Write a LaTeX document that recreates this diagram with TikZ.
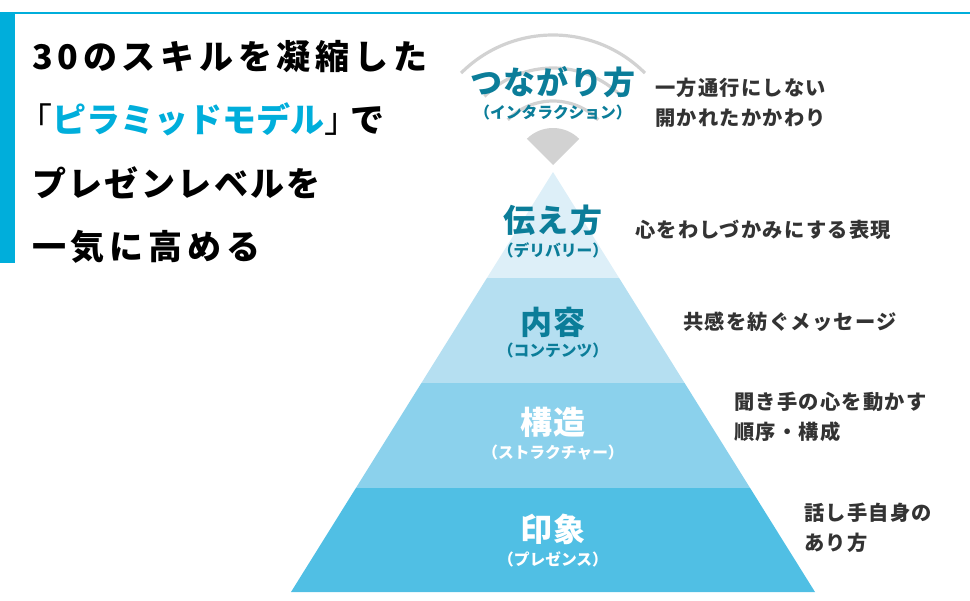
\documentclass[tikz,border=0pt]{standalone}
\usepackage{fontspec}
\usepackage{xcolor}
\usepackage{tikz}
\usetikzlibrary{positioning}
\setmainfont{Noto Sans CJK JP}
\newfontfamily\titlefont[LetterSpace=14]{Noto Sans CJK JP}
\newfontfamily\titlemid[LetterSpace=7]{Noto Sans CJK JP}
\newfontfamily\titletight[LetterSpace=0]{Noto Sans CJK JP}
\newfontfamily\layerfont[LetterSpace=4]{Noto Sans CJK JP}
\newfontfamily\notefont[LetterSpace=6]{Noto Sans CJK JP}
\definecolor{brandcyan}{HTML}{00AEDB}
\definecolor{layerteal}{HTML}{0B7D99}
\definecolor{tierone}{HTML}{DDEFF8}
\definecolor{tiertwo}{HTML}{B5DFF1}
\definecolor{tierthree}{HTML}{8BD1EC}
\definecolor{tierfour}{HTML}{50BFE4}
\definecolor{signalgray}{HTML}{D2D2D2}
\definecolor{notegray}{HTML}{333333}

\begin{document}
\begin{tikzpicture}[
x=0.75pt,y=-0.75pt,
headline/.style={inner sep=0pt,anchor=west,font=\titlefont\bfseries\fontsize{25.5}{30}\selectfont,text height=22.4pt,text depth=3.1pt},
layer/.style={inner sep=0pt,font=\layerfont\bfseries\fontsize{24}{28}\selectfont,text height=21.1pt,text depth=2.9pt},
layersub/.style={inner sep=0pt,font=\bfseries\fontsize{11.8}{14}\selectfont,text height=10.4pt,text depth=1.4pt},
note/.style={inner sep=0pt,anchor=west,align=left,text=notegray,font=\notefont\bfseries\fontsize{15.2}{22.5}\selectfont},
signal/.style={draw=signalgray,line width=2.4pt}
]
\useasboundingbox (0,0) rectangle (970,600);
\fill[brandcyan] (0,12.3) rectangle (15,263);
\draw[brandcyan,line width=1.1pt] (15,13) -- (970,13);

\fill[signalgray] (553,165) -- ++(-45:37) arc[start angle=-45,end angle=-135,radius=37] -- cycle;
\draw[signal] (553,165) ++(-45:64) arc[start angle=-45,end angle=-135,radius=64];
\draw[signal] (553,165) ++(-45:97) arc[start angle=-45,end angle=-135,radius=97];
\draw[signal] (553,165) ++(-45:130) arc[start angle=-45,end angle=-135,radius=130];

\fill[tierone] (553,172) -- (619.1,278) -- (486.9,278) -- cycle;
\fill[tiertwo] (486.9,278) -- (619.1,278) -- (684.6,383) -- (421.4,383) -- cycle;
\fill[tierthree] (421.4,383) -- (684.6,383) -- (750.1,488) -- (355.9,488) -- cycle;
\fill[tierfour] (355.9,488) -- (750.1,488) -- (815,592) -- (291,592) -- cycle;

\node[headline] (title1) at (32,57) {30のスキルを凝縮した};
\node[headline,below=21.4pt of title1.south west,anchor=north west] (title2) {{\mdseries\kern-.4em「}{\titletight\color{brandcyan}ピラミッドモデル}{\mdseries 」\kern-.25em}で};
\node[headline,below=21.4pt of title2.south west,anchor=north west] (title3) {\titlemid プレゼンレベルを};
\node[headline,below=21.4pt of title3.south west,anchor=north west] (title4) {一気に高める};

\node[layer,text=layerteal] (link) at (553,82) {つながり方};
\node[layersub,text=layerteal,below=4.5pt of link] (linksub) {（インタラクション）};
\node[layer,text=layerteal] (delivery) at (553,220) {伝え方};
\node[layersub,text=layerteal,below=4.5pt of delivery] (deliverysub) {（デリバリー）};
\node[layer,text=layerteal] (content) at (553,322) {内容};
\node[layersub,text=layerteal,below=3pt of content] (contentsub) {（コンテンツ）};
\node[layer,text=white] (structure) at (553,422) {構造};
\node[layersub,text=white,below=4.5pt of structure] (structuresub) {（ストラクチャー）};
\node[layer,text=white] (presence) at (553,529) {印象};
\node[layersub,text=white,below=4.5pt of presence] (presencesub) {（プレゼンス）};

\node[note] (linknote) at (655,103) {一方通行にしない\\開かれたかかわり};
\node[note] (deliverynote) at (635,230) {心をわしづかみにする表現};
\node[note] (contentnote) at (683,322) {共感を紡ぐメッセージ};
\node[note] (structurenote) at (734,417) {聞き手の心を動かす\\順序・構成};
\node[note] (presencenote) at (804,527.5) {話し手自身の\\あり方};
\end{tikzpicture}
\end{document}
